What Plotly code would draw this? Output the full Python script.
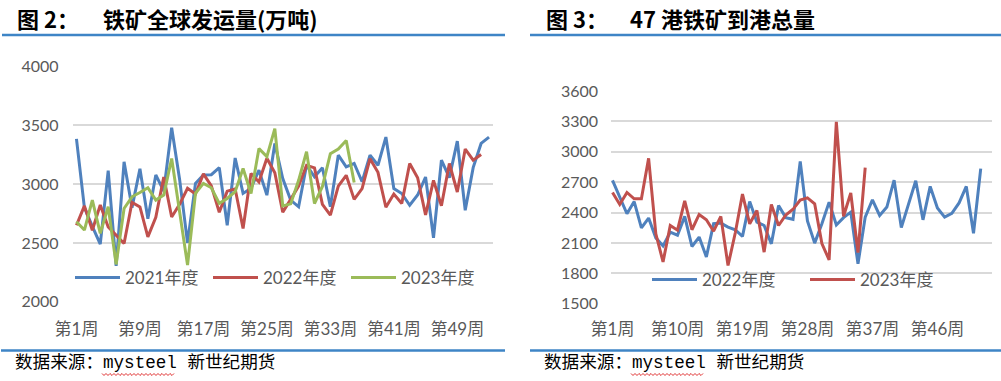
import plotly.graph_objects as go

# ---------------- data ----------------
weeks_left = list(range(1, 54))
ship_2021 = [3385, 2800, 2640, 2490, 3115, 2305, 3190, 2800, 3130, 2705,
             3078, 2940, 3480, 3040, 2500, 3005, 3078, 3080, 3140, 2650,
             3222, 2921, 2965, 3119, 2906, 3346, 3048, 2864, 2807, 3161,
             3062, 3139, 2807, 3246, 3147, 3176, 3020, 3246, 3160, 3400,
             2962, 2920, 2820, 2907, 3060, 2544, 3203, 3055, 3365, 2778,
             3140, 3346, 3400]
ship_2022 = [2650, 2815, 2608, 2823, 2636, 2565, 2495, 2845, 2806, 2551,
             2718, 3060, 2720, 2828, 2965, 2916, 3087, 2985, 2760, 2940,
             2960, 2622, 3090, 3018, 3220, 3096, 2760, 2870, 2983, 3160,
             3138, 2828, 2736, 2983, 3075, 2870, 2962, 3216, 3100, 2803,
             2916, 2835, 3175, 3054, 2738, 3032, 2816, 3175, 2933, 3298,
             3203, 3252]
ship_2023 = [2680, 2609, 2864, 2581, 2807, 2317, 2793, 2892, 2929, 2969,
             2864, 2907, 3218, 2765, 2312, 2921, 3006, 2969, 2836, 2878,
             2935, 3133, 2920, 3302, 3234, 3472, 2814, 2832, 3032, 3276,
             2835, 2980, 3258, 3298, 3370, 3014]

left_tickvals = [1, 9, 17, 25, 33, 41, 49]
left_ticktext = ["第1周", "第9周", "第17周", "第25周", "第33周", "第41周", "第49周"]

arr_2022 = [2718, 2560, 2388, 2508, 2248, 2346, 2150, 2070, 2206, 2176,
            2362, 2065, 2158, 1962, 2290, 2296, 2257, 2230, 2165, 2508,
            2305, 2272, 2091, 2470, 2350, 2333, 2904, 2318, 2098, 2289,
            2503, 2277, 2350, 2404, 1893, 2355, 2526, 2371, 2454, 2720,
            2252, 2483, 2714, 2328, 2658, 2445, 2355, 2391, 2495, 2658,
            2196, 2833]
arr_2023 = [2598, 2480, 2598, 2536, 2536, 2935, 2190, 1913, 2272, 2226,
            2516, 2230, 2381, 2329, 2216, 2362, 1877, 2198, 2582, 2289,
            2421, 2009, 2480, 2272, 2376, 2432, 2523, 2545, 2487, 2094,
            1933, 3295, 2363, 2593, 2004, 2843]

right_tickvals = [1, 10, 19, 28, 37, 46]
right_ticktext = ["第1周", "第10周", "第19周", "第28周", "第37周", "第46周"]

left_title_num = "图 2："
left_title = "铁矿全球发运量(万吨)"
right_title_num = "图 3："
right_title = "47 港铁矿到港总量"
source_text = "数据来源：mysteel 新世纪期货"

# ---------------- styling ----------------
W, H = 1001, 381
BLUE, RED, GREEN = "#4F81BD", "#C0504D", "#9BBB59"
GRID = "#D9D9D9"
TICK = "#595959"
RULE = "#3E85C6"
FONT = "Lato, 'Noto Sans CJK SC', sans-serif"


def px(x):
    return x / W


def py(y):
    return 1 - y / H


fig = go.Figure()

fig.add_trace(go.Scatter(x=weeks_left[:len(ship_2021)], y=ship_2021, mode="lines",
                         name="2021年度", line=dict(color=BLUE, width=3),
                         xaxis="x", yaxis="y", legend="legend"))
fig.add_trace(go.Scatter(x=weeks_left[:len(ship_2022)], y=ship_2022, mode="lines",
                         name="2022年度", line=dict(color=RED, width=3),
                         xaxis="x", yaxis="y", legend="legend"))
fig.add_trace(go.Scatter(x=weeks_left[:len(ship_2023)], y=ship_2023, mode="lines",
                         name="2023年度", line=dict(color=GREEN, width=3),
                         xaxis="x", yaxis="y", legend="legend"))

fig.add_trace(go.Scatter(x=list(range(1, len(arr_2022) + 1)), y=arr_2022, mode="lines",
                         name="2022年度", line=dict(color=BLUE, width=3),
                         xaxis="x2", yaxis="y2", legend="legend2"))
fig.add_trace(go.Scatter(x=list(range(1, len(arr_2023) + 1)), y=arr_2023, mode="lines",
                         name="2023年度", line=dict(color=RED, width=3),
                         xaxis="x2", yaxis="y2", legend="legend2"))

axis_common = dict(showline=False, zeroline=False, ticks="", fixedrange=True,
                   automargin=False)

fig.update_layout(
    width=W, height=H, autosize=False,
    margin=dict(l=0, r=0, t=0, b=0, autoexpand=False),
    paper_bgcolor="white", plot_bgcolor="white",
    font=dict(family=FONT, color=TICK),
    xaxis=dict(domain=[px(72.5), px(493)], range=[0.5, 53.5], anchor="y",
               tickvals=left_tickvals, ticktext=left_ticktext, showgrid=False,
               tickangle=0, tickfont=dict(size=17, color=TICK), ticklabelstandoff=15,
               **axis_common),
    yaxis=dict(domain=[py(301.7), py(66.5)], range=[2000, 4000], anchor="x",
               dtick=500, tick0=2000, showgrid=True, gridcolor=GRID, gridwidth=1.6,
               tickfont=dict(size=16, color=TICK), ticklabelstandoff=13, **axis_common),
    xaxis2=dict(domain=[px(611), px(991.7)], range=[0.79, 53.52], anchor="y2",
                tickvals=right_tickvals, ticktext=right_ticktext, showgrid=False,
                tickangle=0, tickfont=dict(size=17, color=TICK), ticklabelstandoff=13,
                **axis_common),
    yaxis2=dict(domain=[py(303.7), py(91)], range=[1500, 3600], anchor="x2",
                dtick=300, tick0=1500, showgrid=True, gridcolor=GRID, gridwidth=1.6,
                tickfont=dict(size=16, color=TICK), ticklabelstandoff=12, **axis_common),
    legend=dict(orientation="h", x=px(70), y=py(278), xanchor="left", yanchor="middle",
                bgcolor="rgba(0,0,0,0)", font=dict(size=17, color=TICK),
                entrywidth=78, entrywidthmode="pixels", itemwidth=45,
                traceorder="normal"),
    legend2=dict(orientation="h", x=px(647), y=py(280), xanchor="left", yanchor="middle",
                 bgcolor="rgba(0,0,0,0)", font=dict(size=17, color=TICK),
                 entrywidth=98, entrywidthmode="pixels", itemwidth=45,
                 traceorder="normal"),
    showlegend=True,
)

title_font = dict(family="'Noto Sans CJK SC', sans-serif", size=22, color="#000000")
src_font = dict(family="'Liberation Mono', 'Noto Sans CJK SC', monospace", size=17.6, color="#000000")

annos = [
    dict(text="<b>" + left_title_num + "</b>", x=px(15), y=py(18)),
    dict(text="<b>" + left_title + "</b>", x=px(101), y=py(18)),
    dict(text="<b>" + right_title_num + "</b>", x=px(544), y=py(18)),
    dict(text="<b>" + right_title + "</b>", x=px(628), y=py(18)),
]
for a in annos:
    fig.add_annotation(xref="paper", yref="paper", xanchor="left", yanchor="middle",
                       showarrow=False, font=title_font, **a)
for xs in (13, 542):
    fig.add_annotation(xref="paper", yref="paper", xanchor="left", yanchor="middle",
                       showarrow=False, font=src_font, text=source_text,
                       x=px(xs), y=py(363))

rules = [(2, 505, 35), (530, 1001, 35), (1, 505, 350.5), (530, 1001, 350.5)]
for x0, x1, yy in rules:
    fig.add_shape(type="line", xref="paper", yref="paper",
                  x0=px(x0), x1=px(x1), y0=py(yy), y1=py(yy),
                  line=dict(color=RULE, width=2.5))

# red wavy spell-check underline beneath "mysteel"
for ux0, ux1 in ((102, 174), (631, 703)):
    pts = []
    xx, up = ux0, True
    while xx <= ux1:
        pts.append((px(xx), py(373.5 if up else 375.5)))
        xx += 2
        up = not up
    path = "M " + " L ".join(f"{a:.5f},{b:.5f}" for a, b in pts)
    fig.add_shape(type="path", xref="paper", yref="paper", path=path,
                  line=dict(color="#E03030", width=1))

fig.write_html("out.html", config={"displayModeBar": False},
               post_script="document.body.style.margin='0';"
               "document.body.style.overflow='hidden';")
